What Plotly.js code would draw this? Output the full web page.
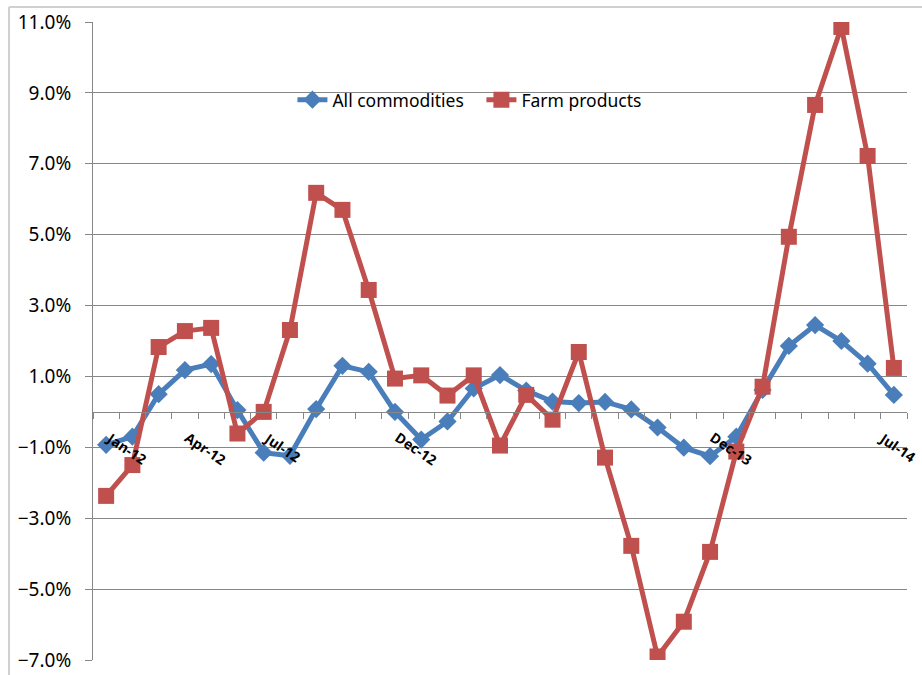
<!DOCTYPE html>
<html>
<head>
<meta charset="utf-8">
<script src="https://cdn.plot.ly/plotly-3.0.1.min.js"></script>
<style>html,body{margin:0;padding:0;background:#fff;}#chart{width:922px;height:675px;}</style>
</head>
<body>
<div id="chart"></div>
<script>
var months = ["Jan-12","Feb-12","Mar-12","Apr-12","May-12","Jun-12","Jul-12","Aug-12","Sep-12","Oct-12","Nov-12","Dec-12",
              "Jan-13","Feb-13","Mar-13","Apr-13","May-13","Jun-13","Jul-13","Aug-13","Sep-13","Oct-13","Nov-13","Dec-13",
              "Jan-14","Feb-14","Mar-14","Apr-14","May-14","Jun-14","Jul-14"];
var allCommodities = [-0.93,-0.7,0.5,1.18,1.35,0.05,-1.15,-1.24,0.08,1.3,1.13,0.0,
                      -0.78,-0.27,0.66,1.04,0.6,0.29,0.25,0.28,0.07,-0.44,-1.01,-1.25,
                      -0.7,0.62,1.86,2.45,2.0,1.36,0.48];
var farmProducts = [-2.37,-1.5,1.83,2.28,2.37,-0.61,0.0,2.31,6.18,5.7,3.44,0.94,
                    1.03,0.46,1.03,-0.95,0.48,-0.22,1.69,-1.29,-3.78,-6.9,-5.92,-3.95,
                    -1.12,0.71,4.94,8.66,10.86,7.22,1.24];
var tickLabels = ["Jan-12","Apr-12","Jul-12","Dec-12","Dec-13","Jul-14"];
var seriesNames = ["All commodities","Farm products"];

var gridColor = "#878787";
var traces = [
  {x: months, y: allCommodities, name: seriesNames[0], type: "scatter", mode: "lines+markers",
   line: {color: "#4A7EBB", width: 5}, marker: {symbol: "diamond", size: 14, color: "#4A7EBB"}},
  {x: months, y: farmProducts, name: seriesNames[1], type: "scatter", mode: "lines+markers",
   line: {color: "#C0504D", width: 5}, marker: {symbol: "square", size: 16, color: "#C0504D"}}
];

var annotations = tickLabels.map(function(t, i){
  var last = (i === tickLabels.length - 1);
  return {x: t, y: 0, xref: "x", yref: "y", text: t, showarrow: false, textangle: 34,
          xanchor: "left", yanchor: "top", xshift: last ? -21 : -6, yshift: -13,
          font: {family: "Open Sans", size: 14, color: "#000", weight: "bold"}};
});

var layout = {
  width: 922, height: 675,
  margin: {l: 93, r: 15, t: 22, b: 15},
  paper_bgcolor: "#fff", plot_bgcolor: "#fff",
  showlegend: true,
  legend: {orientation: "h", x: 0.245, y: 0.878, xanchor: "left", yanchor: "middle",
           bgcolor: "rgba(0,0,0,0)", font: {family: "Noto Sans", size: 17.5, color: "#000"},
           itemwidth: 30, tracegroupgap: 0, entrywidth: 144, entrywidthmode: "pixels"},
  xaxis: {type: "category", categoryorder: "array", categoryarray: months, range: [-0.5, 30.5],
          anchor: "free", position: 7/18, showline: true, linecolor: gridColor, linewidth: 1,
          ticks: "outside", tickson: "boundaries", ticklen: 6, tickcolor: gridColor,
          showticklabels: false, showgrid: false, zeroline: false, fixedrange: true},
  yaxis: {range: [-7, 11], tick0: -7, dtick: 2, ticksuffix: "%", tickformat: ".1f",
          showline: true, linecolor: gridColor, linewidth: 1, showgrid: true, gridcolor: gridColor, gridwidth: 1,
          ticks: "outside", ticklen: 7, tickcolor: gridColor, ticklabelstandoff: 10,
          zeroline: false, tickfont: {family: "Noto Sans", size: 19, color: "#000"}},
  annotations: annotations,
  shapes: [
    {type: "line", xref: "paper", yref: "paper", x0: -0.1032, x1: 1.05, y0: 1.0235, y1: 1.0235,
     line: {color: "#D0D0D0", width: 2}},
    {type: "line", xref: "paper", yref: "paper", x0: -0.1032, x1: -0.1032, y0: -0.05, y1: 1.0235,
     line: {color: "#D0D0D0", width: 2}}
  ]
};

Plotly.newPlot("chart", traces, layout, {displayModeBar: false, staticPlot: true});
</script>
</body>
</html>
